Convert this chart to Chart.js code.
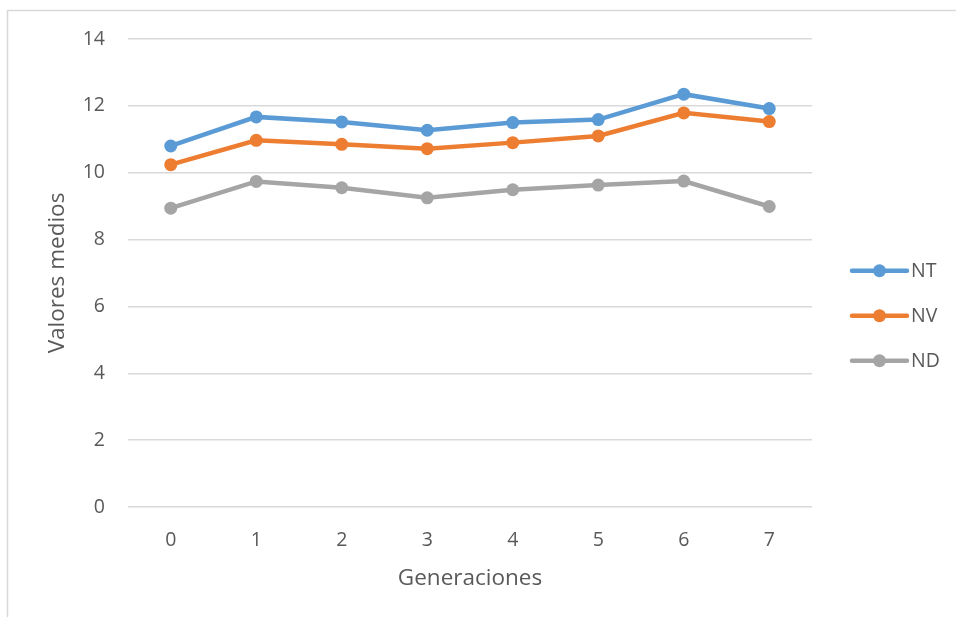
<!DOCTYPE html>
<html>
<head>
<meta charset="utf-8">
<script src="https://cdn.jsdelivr.net/npm/chart.js@4"></script>
<style>
  html, body { margin: 0; padding: 0; background: #ffffff; }
  #wrap { width: 956px; height: 617px; position: relative; }
</style>
</head>
<body>
<div id="wrap"><canvas id="chart" width="956" height="617"></canvas></div>
<script>
// Generations on the x axis
const generaciones = ['0', '1', '2', '3', '4', '5', '6', '7'];

// Mean values per generation for each series
const valoresNT = [10.80, 11.67, 11.52, 11.27, 11.50, 11.59, 12.35, 11.92];
const valoresNV = [10.24, 10.97, 10.85, 10.72, 10.90, 11.10, 11.79, 11.53];
const valoresND = [8.94, 9.74, 9.55, 9.25, 9.49, 9.63, 9.75, 8.99];

const seriesNames = ['NT', 'NV', 'ND'];
const seriesColors = ['#5B9BD5', '#ED7D31', '#A5A5A5'];

const FONT = '"Open Sans", "DejaVu Sans", sans-serif';
const TEXT = '#595959';
const GRID = '#d9d9d9';

function makeSet(i, data) {
  return {
    label: seriesNames[i],
    data: data,
    borderColor: seriesColors[i],
    backgroundColor: seriesColors[i],
    pointBackgroundColor: seriesColors[i],
    pointBorderWidth: 0,
    pointRadius: 6.5,
    pointHoverRadius: 6.5,
    borderWidth: 4.5,
    tension: 0,
    fill: false
  };
}

// Light outer frame along the top and left edges
const framePlugin = {
  id: 'frame',
  beforeDraw(chart) {
    const ctx = chart.ctx;
    ctx.save();
    ctx.strokeStyle = GRID;
    ctx.lineWidth = 1.5;
    ctx.beginPath();
    ctx.moveTo(7.5, chart.height);
    ctx.lineTo(7.5, 10.5);
    ctx.lineTo(chart.width, 10.5);
    ctx.stroke();
    ctx.restore();
  }
};

// Legend on the right: line sample with a centred marker, then the name
const sideLegend = {
  id: 'sideLegend',
  afterDraw(chart) {
    const ctx = chart.ctx;
    const area = chart.chartArea;
    const x0 = area.right + 40, x1 = area.right + 95;
    const step = 45;
    const yStart = (area.top + area.bottom) / 2 - step * 0.05;
    ctx.save();
    chart.data.datasets.forEach((ds, i) => {
      const y = yStart + i * step;
      ctx.strokeStyle = ds.borderColor;
      ctx.lineWidth = 4.5;
      ctx.lineCap = 'round';
      ctx.beginPath();
      ctx.moveTo(x0, y);
      ctx.lineTo(x1, y);
      ctx.stroke();
      ctx.fillStyle = ds.borderColor;
      ctx.beginPath();
      ctx.arc((x0 + x1) / 2, y, 6.5, 0, Math.PI * 2);
      ctx.fill();
      ctx.fillStyle = TEXT;
      ctx.font = '19.5px ' + FONT;
      ctx.textAlign = 'left';
      ctx.textBaseline = 'middle';
      ctx.fillText(ds.label, x1 + 4, y + 1);
    });
    ctx.restore();
  }
};

new Chart(document.getElementById('chart'), {
  type: 'line',
  data: {
    labels: generaciones,
    datasets: [makeSet(0, valoresNT), makeSet(1, valoresNV), makeSet(2, valoresND)]
  },
  options: {
    responsive: false,
    animation: false,
    layout: { padding: { left: 0, right: 144, top: 39, bottom: 0 } },
    plugins: {
      legend: { display: false },
      tooltip: { enabled: false }
    },
    scales: {
      x: {
        offset: true,
        grid: { display: false, drawTicks: false },
        border: { display: false },
        ticks: { color: TEXT, font: { family: FONT, size: 19.5 }, padding: 22 },
        title: {
          display: true,
          text: 'Generaciones',
          color: TEXT,
          font: { family: FONT, size: 22.5 },
          padding: { top: 0, bottom: 25 }
        },
        afterFit(scale) { scale.height = 110; }
      },
      y: {
        min: 0,
        max: 14,
        ticks: { stepSize: 2, color: TEXT, font: { family: FONT, size: 19.5 }, padding: 23 },
        grid: { color: GRID, lineWidth: 1.5, drawTicks: false },
        border: { display: false },
        title: {
          display: true,
          text: 'Valores medios',
          color: TEXT,
          font: { family: FONT, size: 22.5 },
          padding: { top: 44, bottom: 0 }
        },
        afterFit(scale) { scale.width = 128; }
      }
    }
  },
  plugins: [framePlugin, sideLegend]
});
</script>
</body>
</html>
